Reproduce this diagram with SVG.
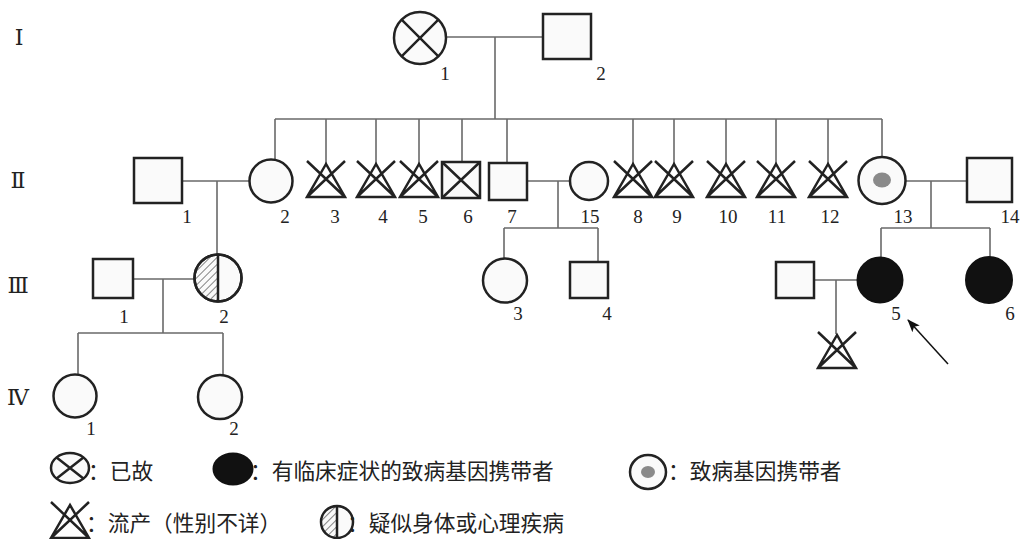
<svg xmlns="http://www.w3.org/2000/svg" xmlns:xlink="http://www.w3.org/1999/xlink" width="1022" height="539" viewBox="0 0 1022 539">
<style>
.sym{fill:#fafafa;stroke:#222;stroke-width:2.5}
.blk{fill:#111;stroke:#111;stroke-width:2}
.mk{fill:none;stroke:#222;stroke-width:2.5}
.ln{fill:none;stroke:#6a6a6a;stroke-width:1.6}
.num{font-family:"Liberation Serif",serif;font-size:19px;fill:#222;text-anchor:middle}
.gen{font-family:"Liberation Serif","DejaVu Serif",serif;font-size:22px;fill:#222;text-anchor:middle}
.leg{font-family:"Noto Sans CJK SC",sans-serif;font-size:21.7px;fill:#222}
</style>
<defs>
<g id="misc"><path d="M0,3 L-19,36 L19,36 Z M-19,0 L19,36 M19,0 L-19,36" fill="none" stroke="#222" stroke-width="2.5" stroke-linejoin="miter"/></g>
<pattern id="hatch" patternUnits="userSpaceOnUse" width="5" height="5" patternTransform="rotate(45)"><line x1="0" y1="0" x2="0" y2="5" stroke="#444" stroke-width="1.3"/></pattern>
<marker id="arr" markerWidth="13" markerHeight="10" refX="12" refY="5" orient="auto" markerUnits="userSpaceOnUse"><path d="M0,0 L13,5 L0,10 L3,5 Z" fill="#111"/></marker>
</defs>
<rect width="1022" height="539" fill="#fff"/>
<g id="generations">
<text class="gen" x="19" y="45">Ⅰ</text>
<text class="gen" x="18" y="188">Ⅱ</text>
<text class="gen" x="18" y="293">Ⅲ</text>
<text class="gen" x="18" y="405">Ⅳ</text>
</g>
<g id="connectors">
<path class="ln" d="M446,37 H543 M495,37 V119 M275,119 H882"/>
<path class="ln" d="M275,119 V160 M326,119 V163 M376,119 V163 M419,119 V163 M462,119 V162 M507,119 V163 M633,119 V163 M674,119 V163 M726,119 V163 M776,119 V163 M828,119 V163 M882,119 V157"/>
<path class="ln" d="M182,181 H250 M217,181 V255"/>
<path class="ln" d="M527,181 H570 M558,181 V228 M504,228 H598 M504,228 V259 M598,228 V262"/>
<path class="ln" d="M905,181 H967 M931,181 V228 M881,228 H990 M881,228 V258 M990,228 V258"/>
<path class="ln" d="M133,279 H195 M163,279 V333 M78,333 H223 M78,333 V375 M223,333 V375"/>
<path class="ln" d="M814,280 H858 M836,280 V334"/>
<line x1="948" y1="364" x2="908" y2="320" stroke="#111" stroke-width="1.5" marker-end="url(#arr)"/>
</g>
<g id="I-1"><circle class="sym" cx="420" cy="38" r="26"/><path class="mk" d="M401.6,19.6 L438.4,56.4 M438.4,19.6 L401.6,56.4"/><text class="num" x="445" y="80">1</text></g>
<g id="I-2"><rect class="sym" x="543" y="14" width="48" height="45"/><text class="num" x="601" y="80">2</text></g>
<g id="II-1"><rect class="sym" x="134" y="158" width="48" height="45"/><text class="num" x="187" y="223">1</text></g>
<g id="II-2"><circle class="sym" cx="271" cy="181" r="21.5"/><text class="num" x="285" y="223">2</text></g>
<g id="II-3"><use xlink:href="#misc" x="326" y="161"/><text class="num" x="335" y="223">3</text></g>
<g id="II-4"><use xlink:href="#misc" x="376" y="161"/><text class="num" x="383" y="223">4</text></g>
<g id="II-5"><use xlink:href="#misc" x="419" y="161"/><text class="num" x="423" y="223">5</text></g>
<g id="II-6"><rect class="sym" x="442" y="162" width="38" height="36"/><path class="mk" d="M442,162 L480,198 M480,162 L442,198"/><text class="num" x="468" y="223">6</text></g>
<g id="II-7"><rect class="sym" x="489" y="163" width="38" height="37"/><text class="num" x="512" y="223">7</text></g>
<g id="II-15"><circle class="sym" cx="589" cy="181" r="19"/><text class="num" x="590" y="223">15</text></g>
<g id="II-8"><use xlink:href="#misc" x="633" y="161"/><text class="num" x="638" y="223">8</text></g>
<g id="II-9"><use xlink:href="#misc" x="674" y="161"/><text class="num" x="677" y="223">9</text></g>
<g id="II-10"><use xlink:href="#misc" x="726" y="161"/><text class="num" x="728" y="223">10</text></g>
<g id="II-11"><use xlink:href="#misc" x="776" y="161"/><text class="num" x="777" y="223">11</text></g>
<g id="II-12"><use xlink:href="#misc" x="828" y="161"/><text class="num" x="830" y="223">12</text></g>
<g id="II-13"><circle class="sym" cx="882" cy="180.5" r="23.5"/><ellipse cx="882" cy="180" rx="9" ry="7.5" fill="#8a8a8a"/><text class="num" x="903" y="223">13</text></g>
<g id="II-14"><rect class="sym" x="967" y="158" width="45" height="44"/><text class="num" x="1010" y="223">14</text></g>
<g id="III-1"><rect class="sym" x="93" y="259" width="40" height="39"/><text class="num" x="124" y="323">1</text></g>
<g id="III-2"><circle class="sym" cx="218" cy="278" r="23.5"/><path d="M218,254.5 A23.5,23.5 0 0 0 218,301.5 Z" fill="url(#hatch)"/><circle cx="218" cy="278" r="23.5" class="mk"/><line x1="218" y1="254.5" x2="218" y2="301.5" stroke="#222" stroke-width="2.5"/><text class="num" x="224" y="323">2</text></g>
<g id="III-3"><circle class="sym" cx="505" cy="280.5" r="22"/><text class="num" x="518" y="320">3</text></g>
<g id="III-4"><rect class="sym" x="570" y="262" width="38" height="36"/><text class="num" x="607" y="320">4</text></g>
<g id="III-spouse"><rect class="sym" x="776" y="262" width="38" height="36"/></g>
<g id="III-miscarriage"><use xlink:href="#misc" x="837" y="332"/></g>
<g id="III-5"><circle class="blk" cx="880" cy="280" r="22.5"/><text class="num" x="896" y="320">5</text></g>
<g id="III-6"><circle class="blk" cx="989" cy="280" r="23"/><text class="num" x="1010" y="320">6</text></g>
<g id="IV-1"><circle class="sym" cx="75" cy="396" r="21.5"/><text class="num" x="91" y="435">1</text></g>
<g id="IV-2"><circle class="sym" cx="220" cy="397" r="22"/><text class="num" x="234" y="435">2</text></g>
<g id="legend">
<ellipse class="sym" cx="70" cy="468" rx="19" ry="15"/><path class="mk" d="M56.6,457.4 L83.4,478.6 M83.4,457.4 L56.6,478.6"/>
<text class="leg" x="88" y="479">：已故</text>
<ellipse class="blk" cx="233" cy="469" rx="19.5" ry="15.5"/>
<text class="leg" x="250" y="479">：有临床症状的致病基因携带者</text>
<ellipse class="sym" cx="648" cy="472" rx="18" ry="17"/><ellipse cx="648" cy="472" rx="7" ry="6" fill="#8a8a8a"/>
<text class="leg" x="668" y="479">：致病基因携带者</text>
<use xlink:href="#misc" x="70" y="502"/>
<text class="leg" x="86" y="531">：流产（性别不详）</text>
<ellipse cx="337" cy="522" rx="16" ry="16" fill="#fafafa"/><path d="M337,506 A16,16 0 0 0 337,538 Z" fill="url(#hatch)"/><ellipse class="mk" cx="337" cy="522" rx="16" ry="16"/><line x1="337" y1="506" x2="337" y2="538" stroke="#222" stroke-width="2.5"/>
<text class="leg" x="347" y="531">：疑似身体或心理疾病</text>
</g>
</svg>
